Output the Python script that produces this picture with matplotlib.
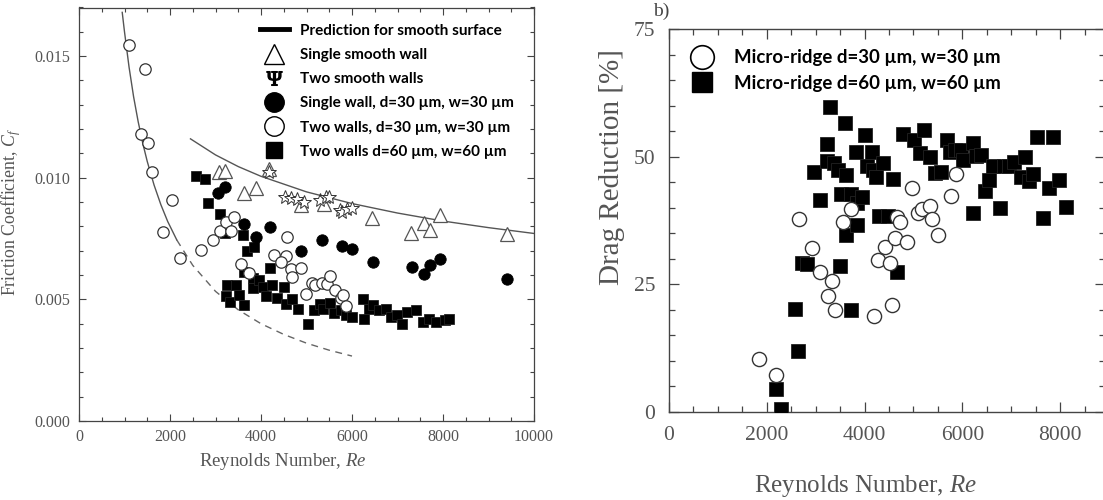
import matplotlib
matplotlib.use('Agg')
import matplotlib.pyplot as plt
from matplotlib.ticker import MultipleLocator, FormatStrFormatter
from matplotlib.lines import Line2D

plt.rcParams['mathtext.fontset'] = 'custom'
plt.rcParams['mathtext.rm'] = 'Liberation Serif'
plt.rcParams['mathtext.it'] = 'Liberation Serif:italic'

# ---------------- Left panel data (Friction coefficient) ----------------
two30_re = [1090, 1445, 1365, 1525, 1600, 2035, 1845, 2215, 2690, 2938, 3095, 3235, 3400, 3340, 3550,
            3730, 4280, 4550, 4565, 4430, 4650, 4690, 4880, 4985, 5110, 5190, 5350, 5450, 5510, 5630,
            5765, 5800, 5865]
two30_cf = [0.01546, 0.01447, 0.0118, 0.01141, 0.01025, 0.00908, 0.00778, 0.00671, 0.00701, 0.00744,
            0.00783, 0.00819, 0.0084, 0.00782, 0.00647, 0.00609, 0.00684, 0.00678, 0.00758, 0.00655,
            0.00625, 0.00592, 0.00627, 0.00524, 0.00568, 0.00558, 0.00568, 0.00562, 0.00595, 0.00538,
            0.00505, 0.00517, 0.00472]

single30_re = [3045, 3200, 3635, 3895, 4195, 4885, 5345, 5785, 5997, 6452, 7308, 7591, 7724, 7944, 9412]
single30_cf = [0.00937, 0.00962, 0.00808, 0.00757, 0.00796, 0.00697, 0.00744, 0.0072, 0.00709, 0.00654,
               0.00634, 0.00606, 0.00641, 0.00668, 0.00582]

smooth1_re = [3069, 3210, 3626, 3901, 4168, 4882, 5392, 6444, 7292, 7582, 7708, 7936, 9412]
smooth1_cf = [0.01025, 0.01029, 0.00938, 0.00956, 0.01038, 0.00888, 0.00894, 0.00833, 0.00771, 0.00812,
              0.00785, 0.00846, 0.00767]

smooth2_re = [4165, 4528, 4660, 4800, 4937, 5293, 5426, 5502, 5729, 5785, 5883, 5995]
smooth2_cf = [0.01023, 0.00922, 0.00918, 0.00912, 0.00901, 0.00908, 0.0092, 0.00922, 0.00867, 0.0086,
              0.0087, 0.00874]

two60_re = [2580, 2760, 2839, 3092, 3210, 3603, 3697, 3838, 3626, 3814, 3814, 4207, 3956, 4035, 4231,
            4506, 4113, 3250, 3446, 3226, 3328, 3509, 3618, 4346, 4545, 4686, 4820, 5031, 5157, 5290,
            5369, 5526, 5604, 5761, 5879, 5997, 6232, 6272, 6366, 6468, 6586, 6743, 6861, 6979, 7096,
            7214, 7410, 7567, 7685, 7857, 8037, 8139]
two60_cf = [0.01008, 0.00995, 0.00897, 0.00853, 0.00771, 0.00764, 0.007, 0.00716, 0.00613, 0.00586,
            0.00545, 0.00627, 0.00579, 0.00549, 0.00558, 0.00551, 0.00513, 0.00558, 0.00558, 0.00513,
            0.0049, 0.00517, 0.00476, 0.00506, 0.00483, 0.00503, 0.00462, 0.004, 0.00455, 0.00483,
            0.00462, 0.00486, 0.00442, 0.00455, 0.00435, 0.00428, 0.00503, 0.00421, 0.00462, 0.00476,
            0.00455, 0.00462, 0.00428, 0.00435, 0.004, 0.00449, 0.00455, 0.00407, 0.00421, 0.00407,
            0.00417, 0.00421]

# prediction curves, values
lam_re = [950, 1000, 1100, 1200, 1300, 1400, 1500, 1650, 1800, 1950, 2150]
lam_cf = [0.0168, 0.0160, 0.01455, 0.01333, 0.01231, 0.01143, 0.01067, 0.0097, 0.00889, 0.0082, 0.00744]
lamx_re = [2150, 2500, 3000, 3500, 4000, 4500, 5000, 5500, 6000]
lamx_cf = [0.00744, 0.0064, 0.00533, 0.00457, 0.004, 0.00356, 0.0032, 0.00291, 0.00267]
turb_re = [2450, 3000, 3500, 4000, 5000, 6000, 7000, 8000, 9000, 10000]
turb_cf = [0.0116, 0.01094, 0.01046, 0.01006, 0.00942, 0.00894, 0.00855, 0.00822, 0.00795, 0.00771]

# ---------------- Right panel data (Drag reduction) ----------------
dr30_re = [1834, 2195, 2650, 2928, 3084, 3245, 3340, 3398, 3563, 3716, 4191, 4265, 4421, 4525, 4567,
           4629, 4672, 4734, 4870, 4967, 5088, 5175, 5341, 5384, 5505, 5758, 5862]
dr30_val = [10.4, 7.3, 37.9, 32.2, 27.4, 22.8, 25.6, 19.9, 37.2, 39.8, 18.8, 29.8, 32.3, 29.1, 21.0,
            34.1, 38.2, 37.3, 33.2, 43.9, 38.9, 39.8, 40.4, 37.9, 34.7, 42.4, 46.6]

dr60_re = [2188, 2294, 2584, 2634, 2720, 2825, 2960, 3098, 3221, 3230, 3296, 3377, 3448, 3519, 3494,
           3600, 3625, 3625, 3731, 3717, 3816, 3837, 3851, 3957, 3999, 4049, 4156, 4177, 4226, 4297,
           4368, 4475, 4581, 4670, 4793, 5006, 5133, 5220, 5345, 5430, 5558, 5678, 5749, 5856, 5962,
           6018, 6209, 6223, 6280, 6386, 6457, 6549, 6634, 6765, 6846, 6953, 7059, 7200, 7271, 7356,
           7448, 7525, 7639, 7767, 7849, 7978, 8110]
dr60_val = [4.5, 0.6, 20.1, 11.9, 29.2, 28.9, 47.0, 41.5, 49.2, 52.6, 59.8, 48.7, 47.4, 42.8, 28.5,
            56.6, 46.4, 34.7, 42.8, 19.9, 51.0, 36.6, 40.9, 42.2, 54.2, 48.1, 51.0, 47.4, 46.1, 38.3,
            48.7, 38.3, 45.6, 27.5, 54.4, 53.3, 50.7, 55.3, 50.0, 46.9, 47.1, 53.3, 51.0, 51.3, 51.3,
            49.4, 52.7, 38.9, 50.1, 50.3, 43.2, 45.4, 48.2, 40.0, 48.1, 48.2, 49.0, 46.1, 50.0, 45.2,
            46.7, 53.9, 38.0, 43.8, 53.9, 45.5, 40.1]

left_labels = ['Prediction for smooth surface', 'Single smooth wall', 'Two smooth walls',
               'Single wall, d=30 µm, w=30 µm', 'Two walls, d=30 µm, w=30 µm', 'Two walls d=60 µm, w=60 µm']
right_labels = ['Micro-ridge d=30 µm, w=30 µm', 'Micro-ridge d=60 µm, w=60 µm']

# ---------------- Figure ----------------
W, H = 1103, 500
fig = plt.figure(figsize=(W / 100, H / 100), dpi=100)
fig.patch.set_facecolor('white')

def px_axes(l, r, t, b):
    return fig.add_axes([l / W, (H - b) / H, (r - l) / W, (b - t) / H])

serif = 'Liberation Serif'
tick_col = '#555555'
spine_col = '#444444'
leg_font = {'family': ['Lato', 'DejaVu Sans'], 'weight': 'bold'}

# ----- Left -----
axL = px_axes(79, 534, 7.5, 421)
axL.plot(lam_re, lam_cf, color='#555555', lw=1.0, zorder=2)
axL.plot(lamx_re, lamx_cf, color='#666666', lw=1.0, ls=(0, (5, 4)), zorder=2)
axL.plot(turb_re, turb_cf, color='#555555', lw=1.0, zorder=2)

axL.plot(two60_re, two60_cf, ls='none', marker='s', ms=7.8, mfc='black', mec='#222222', mew=0.6, zorder=3)
axL.plot(two30_re, two30_cf, ls='none', marker='o', ms=8.2, mfc='white', mec='#333333', mew=0.9, zorder=4)
axL.plot(single30_re, single30_cf, ls='none', marker='o', ms=8.2, mfc='black', mec='black', mew=0.6, zorder=5)
axL.plot(smooth1_re, smooth1_cf, ls='none', marker='^', ms=9.5, mfc='white', mec='#555555', mew=0.9, zorder=5)
axL.plot(smooth2_re, smooth2_cf, ls='none', marker='*', ms=10, mfc='white', mec='#333333', mew=0.7, zorder=6)

axL.set_xlim(0, 10000)
axL.set_ylim(0, 0.017)
axL.xaxis.set_major_locator(MultipleLocator(2000))
axL.xaxis.set_minor_locator(MultipleLocator(500))
axL.yaxis.set_major_locator(MultipleLocator(0.005))
axL.yaxis.set_minor_locator(MultipleLocator(0.001))
axL.yaxis.set_major_formatter(FormatStrFormatter('%.3f'))
axL.tick_params(which='both', direction='in', top=True, right=True, colors=spine_col,
                labelcolor=tick_col, width=0.8)
axL.tick_params(which='major', length=5, labelsize=11.5, pad=6)
axL.tick_params(which='minor', length=3)
for lab in axL.get_xticklabels() + axL.get_yticklabels():
    lab.set_family(serif)
for s in axL.spines.values():
    s.set_color(spine_col)
    s.set_linewidth(0.9)
axL.set_xlabel('Reynolds Number, $Re$', fontsize=13.5, family=serif, color=tick_col)
axL.set_ylabel('Friction Coefficient, $C_f$', fontsize=12.8, family=serif, color=tick_col)
axL.xaxis.set_label_coords(0.448, -0.072)
axL.yaxis.set_label_coords(-0.122, 0.505)

hL = [Line2D([], [], color='black', lw=3.5),
      Line2D([], [], ls='none', marker='^', ms=14, mfc='white', mec='black', mew=1.0),
      Line2D([], [], ls='none', marker=r'$\Psi$', ms=11, color='black'),
      Line2D([], [], ls='none', marker='o', ms=14, mfc='black', mec='black'),
      Line2D([], [], ls='none', marker='o', ms=14, mfc='white', mec='black', mew=1.0),
      Line2D([], [], ls='none', marker='s', ms=12, mfc='black', mec='black')]
legL = axL.legend(hL, left_labels, loc='upper left', bbox_to_anchor=(0.397, 0.961), frameon=False,
                  prop=dict(leg_font, size=11), handlelength=1.9, handletextpad=0.75,
                  labelspacing=0.67, borderpad=0, borderaxespad=0)

# ----- Right -----
axR = px_axes(669, 1104.5, 29.3, 411.8)
axR.plot(dr60_re, dr60_val, ls='none', marker='s', ms=9.6, mfc='black', mec='#222222', mew=0.6, zorder=3)
axR.plot(dr30_re, dr30_val, ls='none', marker='o', ms=10.2, mfc='white', mec='#333333', mew=1.0, zorder=4)
axR.set_xlim(0, 8906)
axR.set_ylim(0, 75)
axR.xaxis.set_major_locator(MultipleLocator(2000))
axR.xaxis.set_minor_locator(MultipleLocator(500))
axR.yaxis.set_major_locator(MultipleLocator(25))
axR.yaxis.set_minor_locator(MultipleLocator(5))
axR.tick_params(which='both', direction='in', top=True, right=True, colors=spine_col,
                labelcolor=tick_col, width=0.9)
axR.tick_params(which='major', length=7, labelsize=15.5, pad=10)
axR.tick_params(which='minor', length=4.5)
for lab in axR.get_xticklabels() + axR.get_yticklabels():
    lab.set_family(serif)
for s in axR.spines.values():
    s.set_color(spine_col)
    s.set_linewidth(1.0)
axR.set_xlabel('Reynolds Number, $Re$', fontsize=18, family=serif, color=tick_col)
axR.set_ylabel('Drag Reduction [%]', fontsize=21, family=serif, color=tick_col)
axR.xaxis.set_label_coords(0.452, -0.16)
axR.yaxis.set_label_coords(-0.1, 0.64)

hR = [Line2D([], [], ls='none', marker='o', ms=17, mfc='white', mec='black', mew=1.2),
      Line2D([], [], ls='none', marker='s', ms=14, mfc='black', mec='black')]
legR = axR.legend(hR, right_labels, loc='upper left', bbox_to_anchor=(0.046, 0.948), frameon=False,
                  prop=dict(leg_font, size=13.4), handlelength=1.4, handletextpad=1.0,
                  labelspacing=0.47, borderpad=0, borderaxespad=0)

fig.text(0.592, 0.968, 'b)', fontsize=14, family=serif, color='#444444', va='baseline')

fig.savefig('out.png', dpi=100)
